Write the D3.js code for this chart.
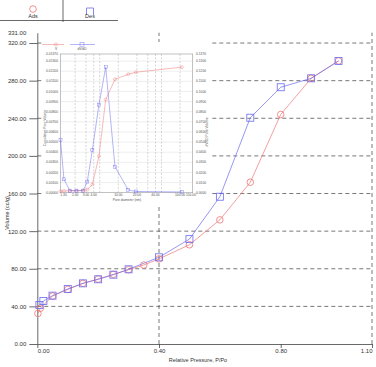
<!DOCTYPE html>
<html>
<head>
<meta charset="utf-8">
<script src="https://cdn.jsdelivr.net/npm/d3@7"></script>
<style>
  body { margin: 0; background: #fff; }
  svg { display: block; font-family: "Liberation Sans", Arial, sans-serif; }
</style>
</head>
<body>
<div id="chart"></div>
<script>
// isotherm (main chart)
const adsP = [0.002, 0.01, 0.05, 0.10, 0.15, 0.20, 0.25, 0.30, 0.35, 0.40, 0.50, 0.60, 0.70, 0.80, 0.90, 0.99];
const adsV = [32.5, 38.0, 51.0, 58.0, 64.5, 69.0, 74.0, 79.0, 84.0, 90.5, 105.5, 132.0, 172.0, 244.0, 282.5, 301.0];
const desP = [0.99, 0.90, 0.80, 0.70, 0.60, 0.50, 0.40, 0.30, 0.25, 0.20, 0.15, 0.10, 0.05, 0.02, 0.007];
const desV = [301.0, 282.5, 273.0, 240.6, 156.6, 111.5, 92.2, 79.4, 73.7, 68.8, 64.5, 58.5, 51.4, 45.7, 41.5];
const yTicks = [0, 40, 80, 120, 160, 200, 240, 280, 320, 331];
const yGrid = [40, 80, 120, 160, 200, 240, 280, 320];
const xTicks = [0, 0.4, 0.8, 1.1];
const xGrid = [0.4, 1.1];
const seriesNames = ["Ads", "Des"];

// pore size distribution (inset)
const poreD = [1.16, 1.32, 1.65, 2.1, 2.7, 3.15, 3.8, 4.86, 6.25, 8.84, 14.5, 19.3, 107];
const cumVol = [0.00015, 0.00017, 0.0002, 0.0002, 0.00023, 0.0003, 0.0008, 0.0036, 0.0092, 0.0112, 0.0117, 0.0119, 0.0124];
const distVol = [0.052, 0.0132, 0.002, 0.002, 0.002, 0.011, 0.042, 0.087, 0.124, 0.0257, 0.0027, 0.0012, 0.0007];
const insetXGrid = [2, 3, 4, 5, 10, 20, 30, 40, 50, 100];
const insetXLabels = [1.3, 2, 3, 4, 10, 20, 40, 100, 150];
const insetLeftTicks = d3.range(0, 14).map(i => i * 0.001).concat([0.0137]);
const insetRightTicks = d3.range(0, 14).map(i => i * 0.01).concat([0.137]);
const insetNames = ["V", "dV/dD"];

const width = 376, height = 367;
const red = "#ef7575", blue = "#6a6aef", txt = "#333";

const svg = d3.select("#chart").append("svg")
  .attr("width", width).attr("height", height);

const x = d3.scaleLinear().domain([0, 1.1]).range([37.3, 372]);
const y = d3.scaleLinear().domain([0, 331]).range([344, 32.7]);

// dashed grid
svg.append("g").selectAll("line").data(yGrid).join("line")
  .attr("x1", x(0)).attr("x2", x(1.1))
  .attr("y1", d => y(d)).attr("y2", d => y(d))
  .attr("stroke", "#555").attr("stroke-width", 0.8).attr("stroke-dasharray", "4,3");
svg.append("g").selectAll("line").data(xGrid).join("line")
  .attr("x1", d => x(d)).attr("x2", d => x(d))
  .attr("y1", y(0)).attr("y2", y(331))
  .attr("stroke", "#555").attr("stroke-width", 0.8).attr("stroke-dasharray", "4,3");

// axes
const yAxis = svg.append("g").attr("transform", `translate(${x(0)},0)`)
  .call(d3.axisLeft(y).tickValues(yTicks).tickFormat(d3.format(".2f")).tickSize(8).tickSizeOuter(0));
yAxis.selectAll("text").attr("font-size", 6).attr("fill", txt).attr("x", -11);
yAxis.selectAll(".tick").filter(d => d === 331).select("line").remove();
const xAxis = svg.append("g").attr("transform", `translate(0,${y(0)})`)
  .call(d3.axisBottom(x).tickValues(xTicks).tickFormat(d3.format(".2f")).tickSize(4).tickSizeOuter(0));
xAxis.selectAll("text").attr("font-size", 6).attr("fill", txt).attr("y", 5)
  .attr("text-anchor", (d, i) => i === 0 ? "start" : (i === xTicks.length - 1 ? "end" : "middle"));
svg.selectAll(".domain, .tick line").attr("stroke", "#444").attr("stroke-width", 0.8);

svg.append("text").attr("transform", "translate(9,213) rotate(-90)")
  .attr("text-anchor", "middle").attr("font-size", 5.5).attr("fill", txt).text("Volume (cc/g)");
svg.append("text").attr("x", 198).attr("y", 362)
  .attr("text-anchor", "middle").attr("font-size", 5.5).attr("fill", txt).text("Relative Pressure, P/Po");

// series
const line = d3.line().x(d => x(d[0])).y(d => y(d[1]));
const ads = adsP.map((p, i) => [p, adsV[i]]);
const des = desP.map((p, i) => [p, desV[i]]);
svg.append("path").datum(ads).attr("d", line).attr("fill", "none").attr("stroke", red).attr("stroke-width", 0.7);
svg.append("path").datum(des).attr("d", line).attr("fill", "none").attr("stroke", blue).attr("stroke-width", 0.7);
svg.append("g").selectAll("circle").data(ads).join("circle")
  .attr("cx", d => x(d[0])).attr("cy", d => y(d[1])).attr("r", 3.3)
  .attr("fill", "none").attr("stroke", red).attr("stroke-width", 0.8);
svg.append("g").selectAll("rect").data(des).join("rect")
  .attr("x", d => x(d[0]) - 3.5).attr("y", d => y(d[1]) - 3.5).attr("width", 7).attr("height", 7)
  .attr("fill", "none").attr("stroke", blue).attr("stroke-width", 0.8);

// legend
const lg = svg.append("g");
lg.append("line").attr("x1", 0).attr("x2", 118).attr("y1", 20.5).attr("y2", 20.5).attr("stroke", "#444").attr("stroke-width", 0.8);
lg.append("line").attr("x1", 63).attr("x2", 63).attr("y1", 0).attr("y2", 22).attr("stroke", "#444").attr("stroke-width", 0.8);
lg.append("circle").attr("cx", 33).attr("cy", 9).attr("r", 3.3).attr("fill", "none").attr("stroke", red).attr("stroke-width", 0.8);
lg.append("path").attr("d", "M86.5,15V8H93.5V15").attr("fill", "none").attr("stroke", blue).attr("stroke-width", 0.8);
lg.selectAll("text").data(seriesNames).join("text")
  .attr("x", (d, i) => i === 0 ? 33 : 90).attr("y", 18)
  .attr("text-anchor", "middle").attr("font-size", 5.5).attr("fill", txt).text(d => d);

// inset
const inset = svg.append("g");
inset.append("rect").attr("x", 42).attr("y", 42).attr("width", 168).attr("height", 163).attr("fill", "#fff");
const ix = d3.scaleLog().domain([1.16, 160]).range([60.5, 192.7]);
const iyL = d3.scaleLinear().domain([0, 0.0137]).range([192.7, 54]);
const iyR = d3.scaleLinear().domain([0, 0.137]).range([192.7, 54]);

inset.append("g").selectAll("line").data(insetLeftTicks.slice(1, -1)).join("line")
  .attr("x1", 60.5).attr("x2", 192.7).attr("y1", d => iyL(d)).attr("y2", d => iyL(d))
  .attr("stroke", "#aaa").attr("stroke-width", 0.4).attr("stroke-dasharray", "1,1");
inset.append("g").selectAll("line").data(insetXGrid).join("line")
  .attr("x1", d => ix(d)).attr("x2", d => ix(d)).attr("y1", 54).attr("y2", 192.7)
  .attr("stroke", "#999").attr("stroke-width", 0.4).attr("stroke-dasharray", "2,1.5");
inset.append("rect").attr("x", 60.5).attr("y", 54).attr("width", 132.2).attr("height", 138.7)
  .attr("fill", "none").attr("stroke", "#999").attr("stroke-width", 0.6);

const fs = 3.3;
inset.append("g").selectAll("text").data(insetLeftTicks).join("text")
  .attr("x", 58).attr("y", d => iyL(d) + 1.1).attr("text-anchor", "end")
  .attr("font-size", fs).attr("fill", "#555").text(d => d3.format(".5f")(d));
inset.append("g").selectAll("text").data(insetRightTicks).join("text")
  .attr("x", 196).attr("y", d => iyR(d) + 1.1)
  .attr("font-size", fs).attr("fill", "#555").text(d => d3.format(".4f")(d));
inset.append("g").selectAll("text").data(insetXLabels).join("text")
  .attr("x", d => ix(d)).attr("y", 196).attr("text-anchor", "middle")
  .attr("font-size", fs).attr("fill", "#555").text(d => d3.format(".2f")(d));
inset.append("text").attr("x", 127).attr("y", 200.5).attr("text-anchor", "middle")
  .attr("font-size", fs).attr("fill", "#555").text("Pore diameter (nm)");
inset.append("text").attr("transform", "translate(45.5,128) rotate(-90)").attr("text-anchor", "middle")
  .attr("font-size", fs).attr("fill", "#555").text("Cumulative Pore Volume");
inset.append("text").attr("transform", "translate(207.5,132) rotate(-90)").attr("text-anchor", "middle")
  .attr("font-size", fs).attr("fill", "#555").text("dV/dD Pore Volume");

const cum = poreD.map((d, i) => [d, cumVol[i]]);
const dist = poreD.map((d, i) => [d, distVol[i]]);
inset.append("path").datum(cum).attr("d", d3.line().x(d => ix(d[0])).y(d => iyL(d[1])))
  .attr("fill", "none").attr("stroke", red).attr("stroke-width", 0.5);
inset.append("path").datum(dist).attr("d", d3.line().x(d => ix(d[0])).y(d => iyR(d[1])))
  .attr("fill", "none").attr("stroke", blue).attr("stroke-width", 0.5);
inset.append("g").selectAll("circle").data(cum).join("circle")
  .attr("cx", d => ix(d[0])).attr("cy", d => iyL(d[1])).attr("r", 1.5)
  .attr("fill", "none").attr("stroke", red).attr("stroke-width", 0.4);
inset.append("g").selectAll("rect").data(dist).join("rect")
  .attr("x", d => ix(d[0]) - 1.5).attr("y", d => iyR(d[1]) - 1.5).attr("width", 3).attr("height", 3)
  .attr("fill", "none").attr("stroke", blue).attr("stroke-width", 0.4);

// inset legend
inset.append("line").attr("x1", 42).attr("x2", 64).attr("y1", 44.5).attr("y2", 44.5).attr("stroke", red).attr("stroke-width", 0.5);
inset.append("circle").attr("cx", 56).attr("cy", 44.5).attr("r", 1.6).attr("fill", "none").attr("stroke", red).attr("stroke-width", 0.4);
inset.append("line").attr("x1", 70).attr("x2", 95).attr("y1", 44.5).attr("y2", 44.5).attr("stroke", blue).attr("stroke-width", 0.5);
inset.append("rect").attr("x", 80).attr("y", 42.5).attr("width", 4).attr("height", 4).attr("fill", "none").attr("stroke", blue).attr("stroke-width", 0.4);
inset.selectAll(".lgt").data(insetNames).join("text").attr("class", "lgt")
  .attr("x", (d, i) => i === 0 ? 56 : 82).attr("y", 49.5).attr("text-anchor", "middle")
  .attr("font-size", fs).attr("fill", "#555").text(d => d);
</script>
</body>
</html>
